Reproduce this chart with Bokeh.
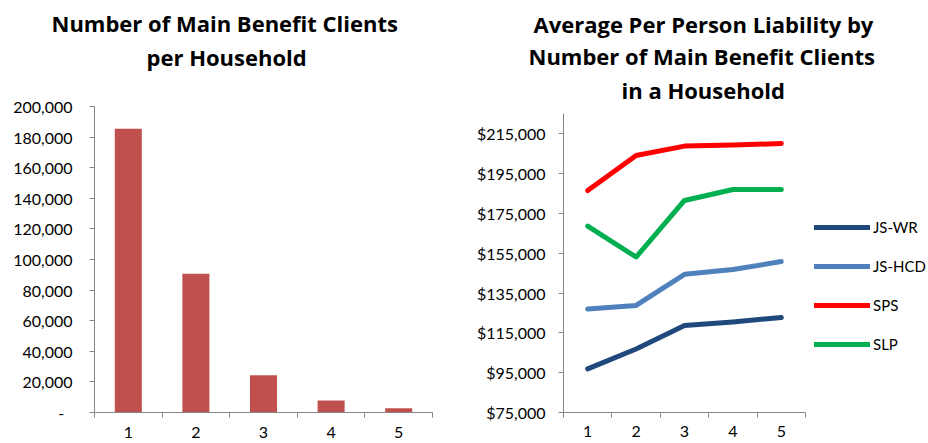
from bokeh.plotting import figure
from bokeh.layouts import row
from bokeh.models import (FixedTicker, NumeralTickFormatter, Legend,
                          LegendItem, Range1d, Title)
from bokeh.embed import file_html
from bokeh.resources import INLINE

# ---------------- data ----------------
categories = ["1", "2", "3", "4", "5"]
x_pos = [1, 2, 3, 4, 5]
household_counts = [185500, 90700, 24300, 7800, 2800]

series_names = ["JS-WR", "JS-HCD", "SPS", "SLP"]
js_wr = [96900, 106900, 118700, 120500, 122700]
js_hcd = [127000, 128800, 144400, 146800, 150800]
sps = [186500, 204100, 208800, 209300, 210100]
slp = [168600, 153100, 181500, 187000, 187000]

left_ticks = [0, 20000, 40000, 60000, 80000, 100000, 120000, 140000, 160000, 180000, 200000]
right_ticks = [75000, 95000, 115000, 135000, 155000, 175000, 195000, 215000]
right_axis_max = 225000

left_title = ["Number of Main Benefit Clients", "per Household"]
right_title = ["Average Per Person Liability by", "Number of Main Benefit Clients", "in a Household"]

# ---------------- styles ----------------
FONT = "Lato"
TITLE_FONT = "Open Sans"
AXIS_COLOR = "#868686"
BAR_COLOR = "#C0504D"
LINE_COLORS = ["#1F497D", "#4F81BD", "#FF0000", "#00B050"]
minor = [v - 0.5 for v in x_pos] + [x_pos[-1] + 0.5]
x_bounds = (x_pos[0] - 0.5, x_pos[-1] + 0.5)


def style_x_axis(p, size, standoff):
    ax = p.xaxis[0]
    ax.ticker = FixedTicker(ticks=x_pos, minor_ticks=minor)
    ax.major_label_overrides = {x: c for x, c in zip(x_pos, categories)}
    ax.bounds = x_bounds
    ax.major_tick_out = 0
    ax.major_tick_in = 0
    ax.minor_tick_out = 5
    ax.minor_tick_in = 0
    ax.minor_tick_line_color = AXIS_COLOR
    ax.axis_line_color = AXIS_COLOR
    ax.major_label_text_font = FONT
    ax.major_label_text_font_size = size
    ax.major_label_text_color = "black"
    ax.major_label_standoff = standoff


def style_y_axis(p, ticks, size, standoff):
    ax = p.yaxis[0]
    ax.ticker = FixedTicker(ticks=ticks)
    ax.major_tick_out = 5
    ax.major_tick_in = 0
    ax.major_tick_line_color = AXIS_COLOR
    ax.minor_tick_line_color = None
    ax.axis_line_color = AXIS_COLOR
    ax.major_label_text_font = FONT
    ax.major_label_text_font_size = size
    ax.major_label_text_color = "black"
    ax.major_label_standoff = standoff


def add_titles(p, lines, offsets, standoffs, spacer_standoff=None):
    # stack grows upward from the frame: spacer first, then lines last-to-first
    if spacer_standoff is not None:
        p.add_layout(Title(text="\u00a0", text_font_size="1px", standoff=spacer_standoff), "above")
    for t, off, so in reversed(list(zip(lines, offsets, standoffs))):
        p.add_layout(Title(text=t, align="left", offset=off, text_font=TITLE_FONT,
                           text_font_style="bold", text_font_size="22px",
                           text_color="black", standoff=so), "above")


def clean(p):
    p.xgrid.visible = False
    p.ygrid.visible = False
    p.outline_line_color = None


# ---------------- left chart ----------------
p1 = figure(width=440, height=440, x_range=Range1d(0.5, 5.5), y_range=Range1d(0, 200000),
            output_backend="svg", toolbar_location=None, title_location=None,
            min_border_left=94, min_border_right=8, min_border_top=106, min_border_bottom=28)
p1.vbar(x=x_pos, top=household_counts, width=0.4, fill_color=BAR_COLOR, line_color=None)
style_x_axis(p1, "16px", 9)
style_y_axis(p1, left_ticks, "16px", 17)
p1.yaxis[0].formatter = NumeralTickFormatter(format="0,0")
p1.yaxis[0].major_label_overrides = {0: "-\u00a0\u00a0"}
clean(p1)
add_titles(p1, left_title, [-43, 52], [2, 2], spacer_standoff=30.6)

# ---------------- right chart ----------------
# frame extended to the right so the legend sits inside it; axis line bounded to the data
p2 = figure(width=486, height=440, x_range=Range1d(0.5, 8.0), y_range=Range1d(75000, 228700),
            output_backend="svg", toolbar_location=None, title_location=None,
            min_border_left=123, min_border_right=0, min_border_top=106, min_border_bottom=28)
items = []
for name, vals, col in zip(series_names, [js_wr, js_hcd, sps, slp], LINE_COLORS):
    r = p2.line(x=x_pos, y=vals, line_color=col, line_width=5,
                line_cap="round", line_join="round")
    items.append(LegendItem(label=name, renderers=[r]))
style_x_axis(p2, "16px", 8)
style_y_axis(p2, right_ticks, "16px", 13)
p2.yaxis[0].formatter = NumeralTickFormatter(format="$0,0")
p2.yaxis[0].bounds = (right_ticks[0], right_axis_max)
clean(p2)

legend = Legend(items=items, location=(251, 58), margin=0, padding=0,
                glyph_width=56, glyph_height=20, label_height=20, spacing=19,
                label_standoff=3, label_text_font=FONT, label_text_font_size="15px",
                label_text_color="black", border_line_color=None,
                background_fill_alpha=0)
p2.add_layout(legend, "center")
add_titles(p2, right_title, [-30, -35, 58], [0, 0, 4])

layout = row(p1, p2)
open("out.html", "w").write(file_html(layout, INLINE))
